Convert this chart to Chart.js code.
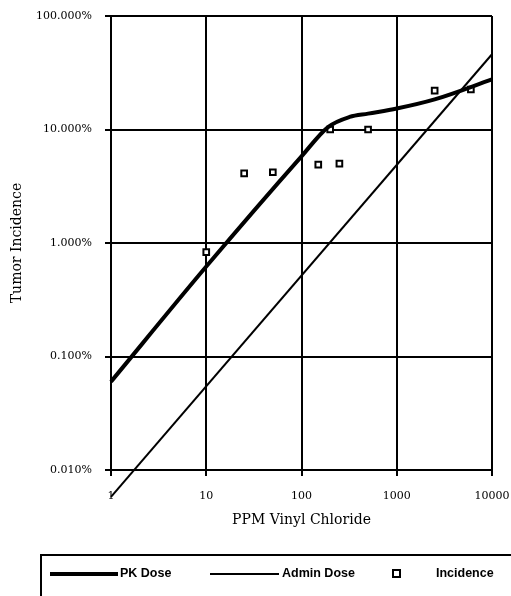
<!DOCTYPE html>
<html>
<head>
<meta charset="utf-8">
<script src="https://cdn.jsdelivr.net/npm/chart.js@4.4.1/dist/chart.umd.min.js"></script>
<style>
body { margin: 0; background: #fff; }
#wrap { width: 511px; height: 596px; position: relative; }
</style>
</head>
<body>
<div id="wrap"><canvas id="vcChart"></canvas></div>
<script>
// dose (ppm) and tumor incidence (%)
const pkDose = [1, 10, 100, 190, 320, 500, 1000, 2500, 10000];
const pkIncidence = [0.06, 0.62, 5.8, 10.5, 12.9, 13.8, 15.3, 18.4, 27.6];

const adminDose = [1, 10000];
const adminIncidence = [0.0058, 46];

const obsDose = [10, 25, 50, 150, 250, 200, 500, 2500, 6000];
const obsIncidence = [0.83, 4.1, 4.2, 4.9, 5.0, 10, 10, 22, 22.5];

const xTicks = [1, 10, 100, 1000, 10000];
const yTicks = [0.01, 0.1, 1, 10, 100];

const seriesNames = ['PK Dose', 'Admin Dose', 'Incidence'];

function toPoints(xs, ys) {
  return xs.map((x, i) => ({ x: x, y: ys[i] }));
}

// legend in a box under the plot, partly running off the page
const boxLegend = {
  id: 'boxLegend',
  afterDraw(chart) {
    const ctx = chart.ctx;
    const ds = chart.data.datasets;
    const rowY = 574;
    ctx.save();
    ctx.strokeStyle = '#000';
    ctx.lineWidth = 2;
    ctx.strokeRect(41, 555, 520, 80);

    ctx.font = 'bold 12.5px "Liberation Sans", Arial, sans-serif';
    ctx.fillStyle = '#000';
    ctx.textBaseline = 'middle';

    // PK Dose
    ctx.lineWidth = ds[0].borderWidth;
    ctx.beginPath(); ctx.moveTo(50, rowY); ctx.lineTo(118, rowY); ctx.stroke();
    ctx.fillText(ds[0].label, 120, rowY);

    // Admin Dose
    ctx.lineWidth = ds[1].borderWidth;
    ctx.beginPath(); ctx.moveTo(210, rowY); ctx.lineTo(279, rowY); ctx.stroke();
    ctx.fillText(ds[1].label, 282, rowY);

    // Incidence marker
    ctx.lineWidth = 2;
    ctx.fillStyle = '#fff';
    ctx.fillRect(393, rowY - 4, 7, 7);
    ctx.strokeRect(393, rowY - 4, 7, 7);
    ctx.fillStyle = '#000';
    ctx.fillText(ds[2].label, 436, rowY);
    ctx.restore();
  }
};

const ctx = document.getElementById('vcChart').getContext('2d');
new Chart(ctx, {
  type: 'line',
  data: {
    datasets: [
      {
        label: seriesNames[0],
        data: toPoints(pkDose, pkIncidence),
        borderColor: '#000',
        borderWidth: 4,
        pointRadius: 0,
        cubicInterpolationMode: 'monotone',
        clip: false
      },
      {
        label: seriesNames[1],
        data: toPoints(adminDose, adminIncidence),
        borderColor: '#000',
        borderWidth: 2,
        pointRadius: 0,
        clip: false
      },
      {
        label: seriesNames[2],
        data: toPoints(obsDose, obsIncidence),
        showLine: false,
        pointStyle: 'rect',
        pointRadius: 4,
        pointBorderWidth: 2,
        pointBackgroundColor: '#fff',
        pointBorderColor: '#000'
      }
    ]
  },
  options: {
    responsive: true,
    maintainAspectRatio: false,
    animation: false,
    layout: { padding: { top: 16, right: 19, left: 0, bottom: 66 } },
    plugins: {
      legend: { display: false },
      tooltip: { enabled: false }
    },
    scales: {
      x: {
        type: 'logarithmic',
        min: 1,
        max: 10000,
        afterBuildTicks: s => { s.ticks = xTicks.map(v => ({ value: v })); },
        // fixed height; don't let the tick padding push the right edge in
        afterFit: s => { s.height = 60; s.paddingLeft = 0; s.paddingRight = 17; },
        grid: { color: '#000', lineWidth: 2, tickLength: 6, tickColor: '#000' },
        border: { color: '#000', width: 2 },
        ticks: {
          color: '#000',
          padding: 14,
          maxRotation: 0,
          font: { family: '"DejaVu Serif", serif', size: 11 },
          callback: v => String(v)
        },
        title: {
          display: true,
          text: 'PPM Vinyl Chloride',
          color: '#000',
          padding: { top: 0, bottom: 1 },
          font: { family: '"DejaVu Serif", serif', size: 14 }
        }
      },
      y: {
        type: 'logarithmic',
        min: 0.01,
        max: 100,
        afterBuildTicks: s => { s.ticks = yTicks.map(v => ({ value: v })); },
        afterFit: s => { s.width = 111; s.paddingTop = 0; s.paddingBottom = 0; },
        grid: { color: '#000', lineWidth: 2, tickLength: 6, tickColor: '#000' },
        border: { color: '#000', width: 2 },
        ticks: {
          color: '#000',
          padding: 13,
          font: { family: '"DejaVu Serif", serif', size: 11 },
          callback: v => Number(v).toFixed(3) + '%'
        },
        title: {
          display: true,
          text: 'Tumor Incidence',
          color: '#000',
          padding: { top: 9, bottom: 0 },
          font: { family: '"DejaVu Serif", serif', size: 14 }
        }
      }
    }
  },
  plugins: [boxLegend]
});
</script>
</body>
</html>
